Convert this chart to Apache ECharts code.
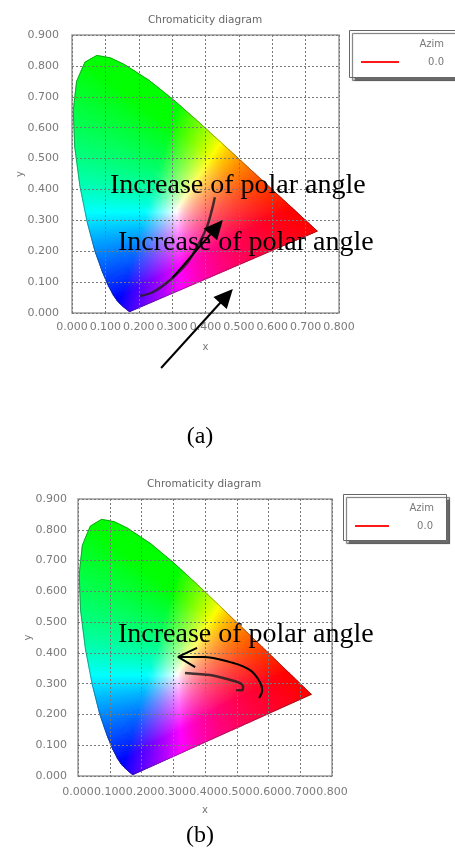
<!DOCTYPE html>
<html><head><meta charset="utf-8">
<script src="https://cdn.jsdelivr.net/npm/echarts@6/dist/echarts.min.js"></script>
<style>html,body{margin:0;padding:0;background:#fff}#c{width:455px;height:850px}</style>
</head><body><div id="c"></div>
<script>
// CIE 1931 spectral locus (x, y), read to match the outline in the picture
const locusX = [0.1741,0.1714,0.1644,0.1566,0.1440,0.1355,0.1241,0.1096,0.0913,0.0687,0.0454,0.0235,0.0082,0.0039,0.0139,0.0389,0.0743,0.1142,0.1547,0.2296,0.3016,0.3731,0.4441,0.5125,0.5752,0.6270,0.6658,0.6915,0.7190,0.7347];
const locusY = [0.0050,0.0051,0.0109,0.0177,0.0297,0.0399,0.0578,0.0868,0.1327,0.2007,0.2950,0.4127,0.5384,0.6548,0.7502,0.8120,0.8338,0.8262,0.8059,0.7543,0.6923,0.6245,0.5547,0.4866,0.4242,0.3725,0.3340,0.3083,0.2809,0.2653];
const whitePoint = [0.3127, 0.3290];
// measured curves
const curveAx = [0.204,0.243,0.294,0.345,0.378,0.404,0.419,0.428];
const curveAy = [0.055,0.068,0.107,0.162,0.220,0.278,0.333,0.375];
const curveBx = [0.337,0.416,0.469,0.510,0.520,0.517,0.498];
const curveBy = [0.335,0.328,0.315,0.302,0.292,0.279,0.279];
// annotation arrows (data coordinates)
const arrowsA = [ [[0.300,0.113],[0.452,0.301]], [[0.267,-0.178],[0.482,0.078]] ];
const arcBx = [0.570,0.580,0.573,0.542,0.479,0.394,0.315];
const arcBy = [0.253,0.279,0.305,0.344,0.370,0.387,0.387];
const arcHeadX = [0.375,0.315,0.369];
const arcHeadY = [0.416,0.387,0.354];
const titleText = 'Chromaticity diagram';
const legendTitle = 'Azim';
const legendValue = '0.0';
const noteText = 'Increase of polar angle';

function xyColor(x,y){
  y = Math.max(y,1e-4);
  const X=x/y, Y=1, Z=(1-x-y)/y;
  let r= 3.2406*X-1.5372*Y-0.4986*Z;
  let g=-0.9689*X+1.8758*Y+0.0415*Z;
  let b= 0.0557*X-0.2040*Y+1.0570*Z;
  r=Math.max(r,0); g=Math.max(g,0); b=Math.max(b,0);
  const m=Math.max(r,g,b)||1;
  const e=0.8;
  r=Math.pow(r/m,e); g=Math.pow(g/m,e); b=Math.pow(b/m,e);
  return 'rgb('+Math.round(r*255)+','+Math.round(g*255)+','+Math.round(b*255)+')';
}
const n = locusX.length;
function fanItem(params, api){
  const i = params.dataIndex;
  const C = whitePoint;
  const A = [locusX[i], locusY[i]];
  const B = i < n-1 ? [locusX[i+1], locusY[i+1]] : [locusX[0], locusY[0]];
  const pA = api.coord(A), pB = api.coord(B);
  const K = Math.max(1, Math.ceil(Math.hypot(pB[0]-pA[0], pB[1]-pA[1]) / 2.5));
  const pc = api.coord(C);
  const children = [];
  for (let k=0;k<K;k++){
    const t0=k/K, t1=(k+1)/K, tm=(k+0.5)/K;
    const P=[A[0]+(B[0]-A[0])*t0, A[1]+(B[1]-A[1])*t0];
    const Q=[A[0]+(B[0]-A[0])*t1, A[1]+(B[1]-A[1])*t1];
    const M=[A[0]+(B[0]-A[0])*tm, A[1]+(B[1]-A[1])*tm];
    const pp=api.coord(P), pq=api.coord(Q), pm=api.coord(M);
    const stops=[];
    for (let s=0;s<=14;s++){ const t=s/14; stops.push({offset:t, color:xyColor(C[0]+t*(M[0]-C[0]), C[1]+t*(M[1]-C[1]))}); }
    const grad = new echarts.graphic.LinearGradient(pc[0],pc[1],pm[0],pm[1],stops,true);
    children.push({type:'polygon', shape:{points:[pc,pp,pq]}, style:{fill:grad, stroke:grad, lineWidth:0.7}});
  }
  return {type:'group', children:children};
}
const locusData = locusX.map((x,i)=>[x,locusY[i]]);
const outline = locusData.concat([locusData[0]]);

const grids = [
  {left:72, top:35, width:267, height:278, show:true, borderColor:'#9a9a9a', borderWidth:1.5},
  {left:78, top:499, width:254, height:277, show:true, borderColor:'#9a9a9a', borderWidth:1.5}
];
function xAx(gi, gap, margin){
  return {type:'value', gridIndex:gi, min:0, max:0.8, interval:0.1, name:'x', nameLocation:'middle', nameGap:gap, nameMoveOverlap:false,
    nameTextStyle:{color:'#777', fontFamily:'DejaVu Sans', fontSize:10},
    axisLine:{show:false}, axisTick:{show:false},
    axisLabel:{color:'#7a7a7a', fontFamily:'DejaVu Sans', fontSize:11, margin:margin, formatter:v=>v.toFixed(3)},
    splitLine:{show:true, lineStyle:{color:'#777', type:[2,2], width:1}}};
}
function yAx(gi, gap, margin){
  return {type:'value', gridIndex:gi, min:0, max:0.9, interval:0.1, name:'y', nameLocation:'middle', nameGap:gap, nameMoveOverlap:false,
    nameTextStyle:{color:'#777', fontFamily:'DejaVu Sans', fontSize:10},
    axisLine:{show:false}, axisTick:{show:false},
    axisLabel:{color:'#7a7a7a', fontFamily:'DejaVu Sans', fontSize:11, margin:margin, formatter:v=>v.toFixed(3)},
    splitLine:{show:true, lineStyle:{color:'#777', type:[2,2], width:1}}};
}
const series = [];
[0,1].forEach(function(gi){
  series.push({type:'custom', xAxisIndex:gi, yAxisIndex:gi, z:-1, silent:true, renderItem:fanItem, data:locusData, clip:false});
  series.push({type:'line', xAxisIndex:gi, yAxisIndex:gi, z:-1, silent:true, symbol:'none', data:outline,
    lineStyle:{color:'rgba(40,40,40,0.5)', width:0.8}});
});
series.push({type:'line', xAxisIndex:0, yAxisIndex:0, symbol:'none', smooth:0.3, data:curveAx.map((x,i)=>[x,curveAy[i]]),
  lineStyle:{color:'rgba(35,30,30,0.85)', width:2.5}});
series.push({type:'line', xAxisIndex:1, yAxisIndex:1, symbol:'none', smooth:0.2, data:curveBx.map((x,i)=>[x,curveBy[i]]),
  lineStyle:{color:'rgba(35,30,30,0.85)', width:2.5}});
series.push({type:'line', xAxisIndex:1, yAxisIndex:1, symbol:'none', smooth:0.4, data:arcBx.map((x,i)=>[x,arcBy[i]]),
  lineStyle:{color:'#000', width:2}});
series.push({type:'line', xAxisIndex:1, yAxisIndex:1, symbol:'none', data:arcHeadX.map((x,i)=>[x,arcHeadY[i]]),
  lineStyle:{color:'#000', width:2}});

const chart = echarts.init(document.getElementById('c'), null, {renderer:'canvas'});
chart.setOption({
  backgroundColor:'#fff', animation:false,
  grid:grids,
  xAxis:[xAx(0,29,9), xAx(1,29,11)],
  yAxis:[yAx(0,47,13), yAx(1,45,11)],
  series:series
});

function arrowGraphics(gi, from, to){
  const p0 = chart.convertToPixel({gridIndex:gi}, from);
  const p1 = chart.convertToPixel({gridIndex:gi}, to);
  const dx=p1[0]-p0[0], dy=p1[1]-p0[1], L=Math.hypot(dx,dy), ux=dx/L, uy=dy/L;
  const hl=19, hw=9;
  const bx=p1[0]-ux*hl, by=p1[1]-uy*hl;
  return [
    {type:'line', shape:{x1:p0[0],y1:p0[1],x2:bx+ux*2,y2:by+uy*2}, style:{stroke:'#000', lineWidth:2}, z:100},
    {type:'polygon', shape:{points:[[p1[0],p1[1]],[bx-uy*hw,by+ux*hw],[bx+uy*hw,by-ux*hw]]}, style:{fill:'#000'}, z:100}
  ];
}
const serif = '28px "Liberation Serif", "Times New Roman", serif';
const sans = '10px "DejaVu Sans", sans-serif';
let g = [];
arrowsA.forEach(a=>{ g = g.concat(arrowGraphics(0, a[0], a[1])); });
g.push({type:'text', x:205, y:20, z:100, style:{text:titleText, font:'10.5px "DejaVu Sans", sans-serif', fill:'#666', align:'center', verticalAlign:'middle'}});
g.push({type:'text', x:204, y:484, z:100, style:{text:titleText, font:'10.5px "DejaVu Sans", sans-serif', fill:'#666', align:'center', verticalAlign:'middle'}});
g.push({type:'text', x:110, y:186, z:100, style:{text:noteText, font:serif, fill:'#000', align:'left', verticalAlign:'middle'}});
g.push({type:'text', x:118, y:243, z:100, style:{text:noteText, font:serif, fill:'#000', align:'left', verticalAlign:'middle'}});
g.push({type:'text', x:118, y:634.5, z:100, style:{text:noteText, font:serif, fill:'#000', align:'left', verticalAlign:'middle'}});
g.push({type:'text', x:200, y:437, z:100, style:{text:'(a)', font:'24px "Liberation Serif", serif', fill:'#000', align:'center', verticalAlign:'middle'}});
g.push({type:'text', x:200, y:835.5, z:100, style:{text:'(b)', font:'24px "Liberation Serif", serif', fill:'#000', align:'center', verticalAlign:'middle'}});
function legend(x,y,w,h,titleX,titleY,lx1,lx2,ly,valX){
  g.push({type:'rect', z:90, shape:{x:x,y:y,width:w,height:h}, style:{fill:'#fff', stroke:'#666', lineWidth:1, shadowColor:'rgba(90,90,90,0.9)', shadowOffsetX:3, shadowOffsetY:3, shadowBlur:1}});
  g.push({type:'text', z:100, x:titleX, y:titleY, style:{text:legendTitle, font:sans, fill:'#777', align:'right', verticalAlign:'middle'}});
  g.push({type:'line', z:100, shape:{x1:lx1,y1:ly,x2:lx2,y2:ly}, style:{stroke:'#ff1a1a', lineWidth:2}});
  g.push({type:'text', z:100, x:valX, y:ly, style:{text:legendValue, font:sans, fill:'#777', align:'right', verticalAlign:'middle'}});
}
legend(349.5,30.5,130,47,444,44,361,399,62,444);
legend(343.5,494.5,103,46,434,508,355,389,526,433);
chart.setOption({graphic:{elements:g}});
</script></body></html>
